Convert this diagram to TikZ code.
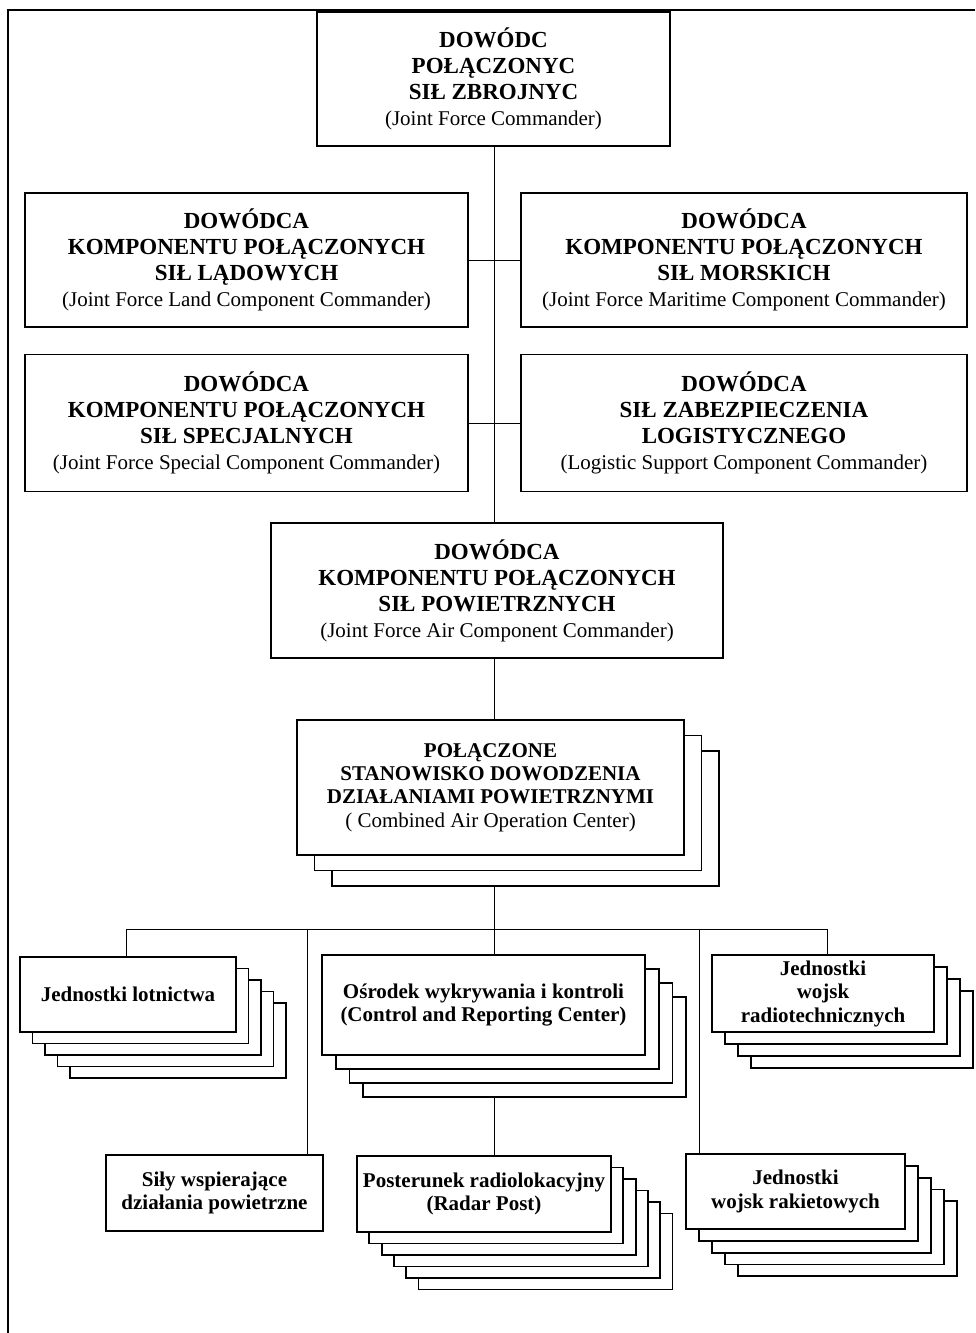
\documentclass[tikz,border=0pt]{standalone}
\usepackage{fontspec}
\setmainfont{Liberation Serif}
\usetikzlibrary{backgrounds}
\newcommand{\nagl}[1]{{\fontsize{23}{26}\selectfont\bfseries #1}}

\begin{document}
\begin{tikzpicture}[x=1pt, y=-1pt]
	\tikzstyle{box}=[draw, fill=white, line width=1.8pt, inner sep=0pt, outer sep=0pt, align=center]
	\tikzstyle{top}=[box, font=\fontsize{21}{26}\selectfont]
	\tikzstyle{mid}=[box, font=\fontsize{21}{23.3}\selectfont]
	\tikzstyle{low}=[box, font=\fontsize{21}{23.5}\selectfont\bfseries]
	\tikzstyle{link}=[line width=1pt]
	\useasboundingbox (0,0) rectangle (975,1333);

	\node (JFC) [top, minimum width=353pt, minimum height=134pt] at (493.5,79) {\nagl{DOWÓDC}\\ \nagl{POŁĄCZONYC}\\ \nagl{SIŁ ZBROJNYC}\\ (Joint Force Commander)};
	\node (Land) [top, minimum width=443pt, minimum height=134pt] at (246.5,260) {\nagl{DOWÓDCA}\\ \nagl{KOMPONENTU POŁĄCZONYCH}\\ \nagl{SIŁ LĄDOWYCH}\\ (Joint Force Land Component Commander)};
	\node (Mar) [top, minimum width=446pt, minimum height=134pt] at (744,260) {\nagl{DOWÓDCA}\\ \nagl{KOMPONENTU POŁĄCZONYCH}\\ \nagl{SIŁ MORSKICH}\\ (Joint Force Maritime Component Commander)};
	\node (Spec) [top, minimum width=443pt, minimum height=137pt] at (246.5,423) {\nagl{DOWÓDCA}\\ \nagl{KOMPONENTU POŁĄCZONYCH}\\ \nagl{SIŁ SPECJALNYCH}\\ (Joint Force Special Component Commander)};
	\node (Log) [top, minimum width=446pt, minimum height=137pt] at (744,423) {\nagl{DOWÓDCA}\\ \nagl{SIŁ ZABEZPIECZENIA}\\ \nagl{LOGISTYCZNEGO}\\ (Logistic Support Component Commander)};
	\node (Air) [top, minimum width=452pt, minimum height=135pt] at (497,590.5) {\nagl{DOWÓDCA}\\ \nagl{KOMPONENTU POŁĄCZONYCH}\\ \nagl{SIŁ POWIETRZNYCH}\\ (Joint Force Air Component Commander)};
	\node (CAOC) [mid, minimum width=387pt, minimum height=135pt] at (490.5,787.5) {\textbf{POŁĄCZONE}\\ \textbf{STANOWISKO DOWODZENIA}\\ \textbf{DZIAŁANIAMI POWIETRZNYMI}\\ ( Combined Air Operation Center)};

	\node (Lot) [low, minimum width=216pt, minimum height=75pt] at (128,994.5) {Jednostki lotnictwa};
	\node (Osr) [low, minimum width=323pt, minimum height=100pt] at (483.5,1005) {Ośrodek wykrywania i kontroli\\ (Control and Reporting Center)};
	\node (Rad) [low, minimum width=222pt, minimum height=77pt] at (823,993.5) {Jednostki\\ wojsk\\ radiotechnicznych};
	\node (Sil) [low, minimum width=217pt, minimum height=76pt] at (214.5,1193) {Siły wspierające\\ działania powietrzne};
	\node (Pos) [low, minimum width=254pt, minimum height=76pt] at (484,1194) {Posterunek radiolokacyjny\\ (Radar Post)};
	\node (Rak) [low, minimum width=219pt, minimum height=75pt] at (795.5,1191.5) {Jednostki\\ wojsk rakietowych};

	\begin{pgfonlayer}{background}
		\draw[line width=2.5pt] (975,10) -- (8,10) -- (8,1333);
		\coordinate (Spine) at (494.5,0);
		\coordinate (BusL) at (126,929);
		\coordinate (BusA) at (307,929);
		\coordinate (BusB) at (699,929);
		\coordinate (BusR) at (827,929);
		\draw[link] (Spine |- JFC.south) -- (Spine |- Pos.north);
		\draw[link] (Land.east) -- (Mar.west);
		\draw[link] (Spec.east) -- (Log.west);
		\draw[link] (BusL |- Lot.north) -- (BusL) -- (BusR) -- (BusR |- Rad.north);
		\draw[link] (BusA) -- (BusA |- Sil.north);
		\draw[link] (BusB) -- (BusB |- Rak.north);

		\foreach \i in {2,1}
			\draw[box] ([shift={(\i*17.5,\i*15.5)}]CAOC.south west) rectangle ([shift={(\i*17.5,\i*15.5)}]CAOC.north east);
		\foreach \i in {4,...,1}
			\draw[box] ([shift={(\i*12.5,\i*11.5)}]Lot.south west) rectangle ([shift={(\i*12.5,\i*11.5)}]Lot.north east);
		\foreach \i in {3,2,1}
			\draw[box] ([shift={(\i*13.7,\i*14)}]Osr.south west) rectangle ([shift={(\i*13.7,\i*14)}]Osr.north east);
		\foreach \i in {3,2,1}
			\draw[box] ([shift={(\i*13,\i*12)}]Rad.south west) rectangle ([shift={(\i*13,\i*12)}]Rad.north east);
		\foreach \i in {5,...,1}
			\draw[box] ([shift={(\i*12.3,\i*11.5)}]Pos.south west) rectangle ([shift={(\i*12.3,\i*11.5)}]Pos.north east);
		\foreach \i in {4,...,1}
			\draw[box] ([shift={(\i*13,\i*11.8)}]Rak.south west) rectangle ([shift={(\i*13,\i*11.8)}]Rak.north east);
	\end{pgfonlayer}
\end{tikzpicture}
\end{document}
